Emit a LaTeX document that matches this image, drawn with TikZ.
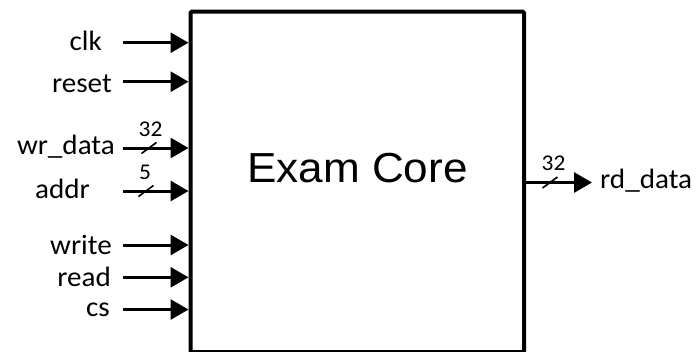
\documentclass[tikz,border=0pt]{standalone}
\usepackage{fontspec}
\setmainfont{Carlito}
\newfontfamily\labfont[FakeStretch=1.04]{Carlito}
\newfontfamily\corefont[FakeStretch=1.05]{Liberation Sans}
\usetikzlibrary{arrows.meta}
\begin{document}
\begin{tikzpicture}[x=1pt,y=-1pt,
  sig/.style={line width=3pt,-{Triangle[length=18pt,width=20pt]}},
  lab/.style={inner sep=0pt,anchor=base east,font=\labfont\fontsize{28}{32}\selectfont},
  outlab/.style={inner sep=0pt,anchor=base west,font=\labfont\fontsize{28}{32}\selectfont},
  wid/.style={inner sep=0pt,anchor=base,font=\labfont\fontsize{22.5}{26}\selectfont},
  tick/.style={line width=1.6pt},
  block/.style={draw,line width=4pt,rounded corners=1.5pt,minimum width=333.5pt,minimum height=340.5pt,inner sep=0pt}]
\useasboundingbox[fill=white] (0,0) rectangle (698,351);
% block
\node[block] (core) at (357.25,181.75) {};
\node[inner sep=0pt,anchor=base,font=\corefont\fontsize{42}{48}\selectfont] (title) at (357.5,182) {Exam Core};
% input start points
\coordinate (clk-s) at (123,42.7);
\coordinate (rst-s) at (123,81.7);
\coordinate (wrd-s) at (123,148);
\coordinate (adr-s) at (123,191);
\coordinate (wr-s) at (123,245);
\coordinate (rd-s) at (123,277.3);
\coordinate (cs-s) at (123,309.5);
% labels
\node[lab] (clk) at (102,50.7) {clk};
\node[lab] (rst) at (112,92) {reset};
\node[lab] (wrd) at (115,154) {wr\_data};
\node[lab] (adr) at (90,198.3) {addr};
\node[lab] (wr) at (112,254) {write};
\node[lab] (rd) at (111,286.5) {read};
\node[lab] (cs) at (110,316.7) {cs};
% arrows
\foreach \s in {clk-s,rst-s,wrd-s,adr-s,wr-s,rd-s,cs-s}
  \draw[sig] (\s) -- (\s -| core.west);
% bus widths
\coordinate (wrd-m) at (149,148);
\coordinate (adr-m) at (146,191);
\draw[tick] ([shift={(-7.5,5.5)}]wrd-m) -- ([shift={(7.5,-5.5)}]wrd-m);
\draw[tick] ([shift={(-7.5,5.5)}]adr-m) -- ([shift={(7.5,-5.5)}]adr-m);
\node[wid] (wrd-w) at (150.5,136) {32};
\node[wid] (adr-w) at (145,179) {5};
% output
\coordinate (rdd-e) at (592,182.5);
\draw[sig] (core.east |- rdd-e) -- (rdd-e);
\coordinate (rdd-m) at (550,182.5);
\draw[tick] ([shift={(-7.5,5.5)}]rdd-m) -- ([shift={(7.5,-5.5)}]rdd-m);
\node[wid] (rdd-w) at (553.5,170) {32};
\node[outlab] (rdd) at (600,188.5) {rd\_data};
\end{tikzpicture}
\end{document}
